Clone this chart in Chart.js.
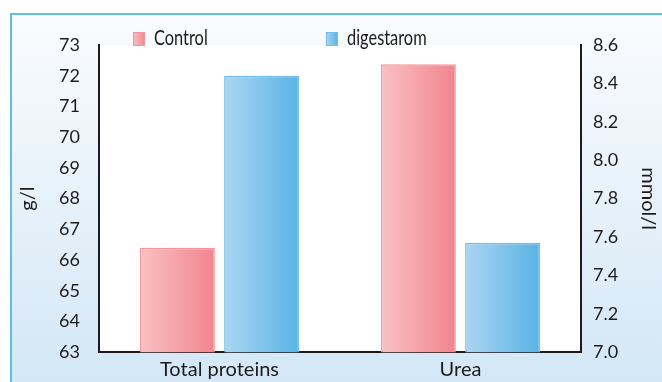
<!DOCTYPE html>
<html>
<head>
<meta charset="utf-8">
<script src="https://cdn.jsdelivr.net/npm/chart.js@4/dist/chart.umd.min.js"></script>
<style>
  html, body { margin: 0; padding: 0; background: #fff; }
  #wrap { width: 662px; height: 382px; }
</style>
</head>
<body>
<div id="wrap"><canvas id="c" width="662" height="382"></canvas></div>
<script>
// Serum parameters: total proteins (g/l, left axis) and urea (mmol/l, right axis)
const categories = ['Total proteins', 'Urea'];
const seriesNames = ['Control', 'digestarom'];
const control = [66.4, 8.5];
const digestarom = [72.0, 7.57];
const gPerLTicks = [63, 64, 65, 66, 67, 68, 69, 70, 71, 72, 73];
const mmolTicks = [7.0, 7.2, 7.4, 7.6, 7.8, 8.0, 8.2, 8.4, 8.6];

const CAT_PCT = 0.7;
const BAR_PCT = 0.89;
const INK = '#1f1b1c';
const FONT = "Lato, 'Open Sans', sans-serif";

// light-to-dark horizontal fills per series
const palette = [
  { light: '#f8c1c4', dark: '#f2848d', edge: '#f3959c' },
  { light: '#acd5f1', dark: '#58b3e4', edge: '#72bee9' }
];

// gradient spanning the bar's own width, taken from the category scale
function barFill(seriesIdx) {
  return (ctx) => {
    const chart = ctx.chart;
    const xs = chart.scales.x;
    if (!xs || ctx.dataIndex === undefined) return palette[seriesIdx].dark;
    const centre = xs.getPixelForValue(ctx.dataIndex);
    const slot = (xs.width / categories.length) * CAT_PCT / seriesNames.length;
    const barCentre = centre + (seriesIdx - (seriesNames.length - 1) / 2) * slot;
    const half = slot * BAR_PCT / 2;
    if (!isFinite(barCentre) || !isFinite(half) || half <= 0) return palette[seriesIdx].dark;
    const g = chart.ctx.createLinearGradient(barCentre - half, 0, barCentre + half, 0);
    g.addColorStop(0, palette[seriesIdx].light);
    g.addColorStop(1, palette[seriesIdx].dark);
    return g;
  };
}

const seriesValues = [control, digestarom];
const axisFor = ['yL', 'yR'];
const datasets = [];
seriesNames.forEach((name, s) => {
  categories.forEach((cat, i) => {
    datasets.push({
      label: name,
      data: categories.map((_, j) => (j === i ? seriesValues[s][i] : null)),
      yAxisID: axisFor[i],
      backgroundColor: barFill(s),
      borderColor: palette[s].edge,
      borderWidth: 1.5,
      categoryPercentage: CAT_PCT,
      barPercentage: BAR_PCT,
      skipNull: true
    });
  });
});

// panel backdrop: blue-framed tinted card with a white plotting field
const panel = {
  id: 'panel',
  beforeDraw(chart) {
    const { ctx, width, height, chartArea: a } = chart;
    ctx.save();
    ctx.fillStyle = '#ffffff';
    ctx.fillRect(0, 0, width, height);
    const g = ctx.createLinearGradient(0, 14, 0, height);
    g.addColorStop(0, '#fafcfe');
    g.addColorStop(1, '#d3e7f6');
    ctx.fillStyle = g;
    ctx.fillRect(11, 14, width - 11, height - 14);
    ctx.strokeStyle = '#5cc0ea';
    ctx.lineWidth = 2;
    ctx.beginPath();
    ctx.moveTo(11, height);
    ctx.lineTo(11, 14);
    ctx.lineTo(width, 14);
    ctx.stroke();
    ctx.fillStyle = '#ffffff';
    ctx.fillRect(a.left, a.top, a.right - a.left, a.bottom - a.top);
    ctx.restore();
  }
};

// series key above the plot, set in a narrowed face
const seriesKey = {
  id: 'seriesKey',
  afterDraw(chart) {
    const ctx = chart.ctx;
    const starts = [133, 326];
    ctx.save();
    seriesNames.forEach((name, s) => {
      const x = starts[s];
      const g = ctx.createLinearGradient(x, 0, x + 12, 0);
      g.addColorStop(0, palette[s].light);
      g.addColorStop(1, palette[s].dark);
      ctx.fillStyle = g;
      ctx.fillRect(x, 32, 12, 14);
      ctx.strokeStyle = palette[s].edge;
      ctx.lineWidth = 1;
      ctx.strokeRect(x + 0.5, 32.5, 11, 13);
      ctx.save();
      ctx.translate(x + 21, 45);
      ctx.scale(0.78, 1);
      ctx.font = '21px ' + FONT;
      ctx.textBaseline = 'alphabetic';
      ctx.fillStyle = INK;
      ctx.fillText(name, 0, 0);
      ctx.restore();
    });
    ctx.restore();
  }
};

new Chart(document.getElementById('c'), {
  type: 'bar',
  data: { labels: categories, datasets },
  plugins: [panel, seriesKey],
  options: {
    responsive: false,
    animation: false,
    devicePixelRatio: 1,
    layout: { padding: { top: 45, left: 0, right: 0, bottom: 0 } },
    plugins: { legend: { display: false }, tooltip: { enabled: false } },
    scales: {
      x: {
        grid: { display: false, drawTicks: false },
        border: { display: true, color: INK, width: 2 },
        ticks: { color: INK, font: { family: FONT, size: 20 }, padding: 5, maxRotation: 0 },
        afterFit: (s) => { s.height = 29; }
      },
      yL: {
        position: 'left',
        min: gPerLTicks[0],
        max: gPerLTicks[gPerLTicks.length - 1],
        grid: { display: false, drawTicks: false },
        border: { display: true, color: INK, width: 2 },
        ticks: { color: INK, font: { family: FONT, size: 18 }, padding: 19 },
        afterBuildTicks: (s) => { s.ticks = gPerLTicks.map((v) => ({ value: v })); },
        title: { display: true, text: 'g/l', color: INK, font: { family: FONT, size: 20 }, padding: { top: 16, bottom: 0 } },
        afterFit: (s) => { s.width = 99; }
      },
      yR: {
        position: 'right',
        min: mmolTicks[0],
        max: mmolTicks[mmolTicks.length - 1],
        grid: { display: false, drawTicks: false },
        border: { display: true, color: INK, width: 2 },
        ticks: { color: INK, font: { family: FONT, size: 18 }, padding: 12, callback: (v) => Number(v).toFixed(1) },
        afterBuildTicks: (s) => { s.ticks = mmolTicks.map((v) => ({ value: v })); },
        title: { display: true, text: 'mmol/l', color: INK, font: { family: FONT, size: 20 }, padding: { top: 2, bottom: 0 } },
        afterFit: (s) => { s.width = 81; }
      }
    }
  }
});
</script>
</body>
</html>
